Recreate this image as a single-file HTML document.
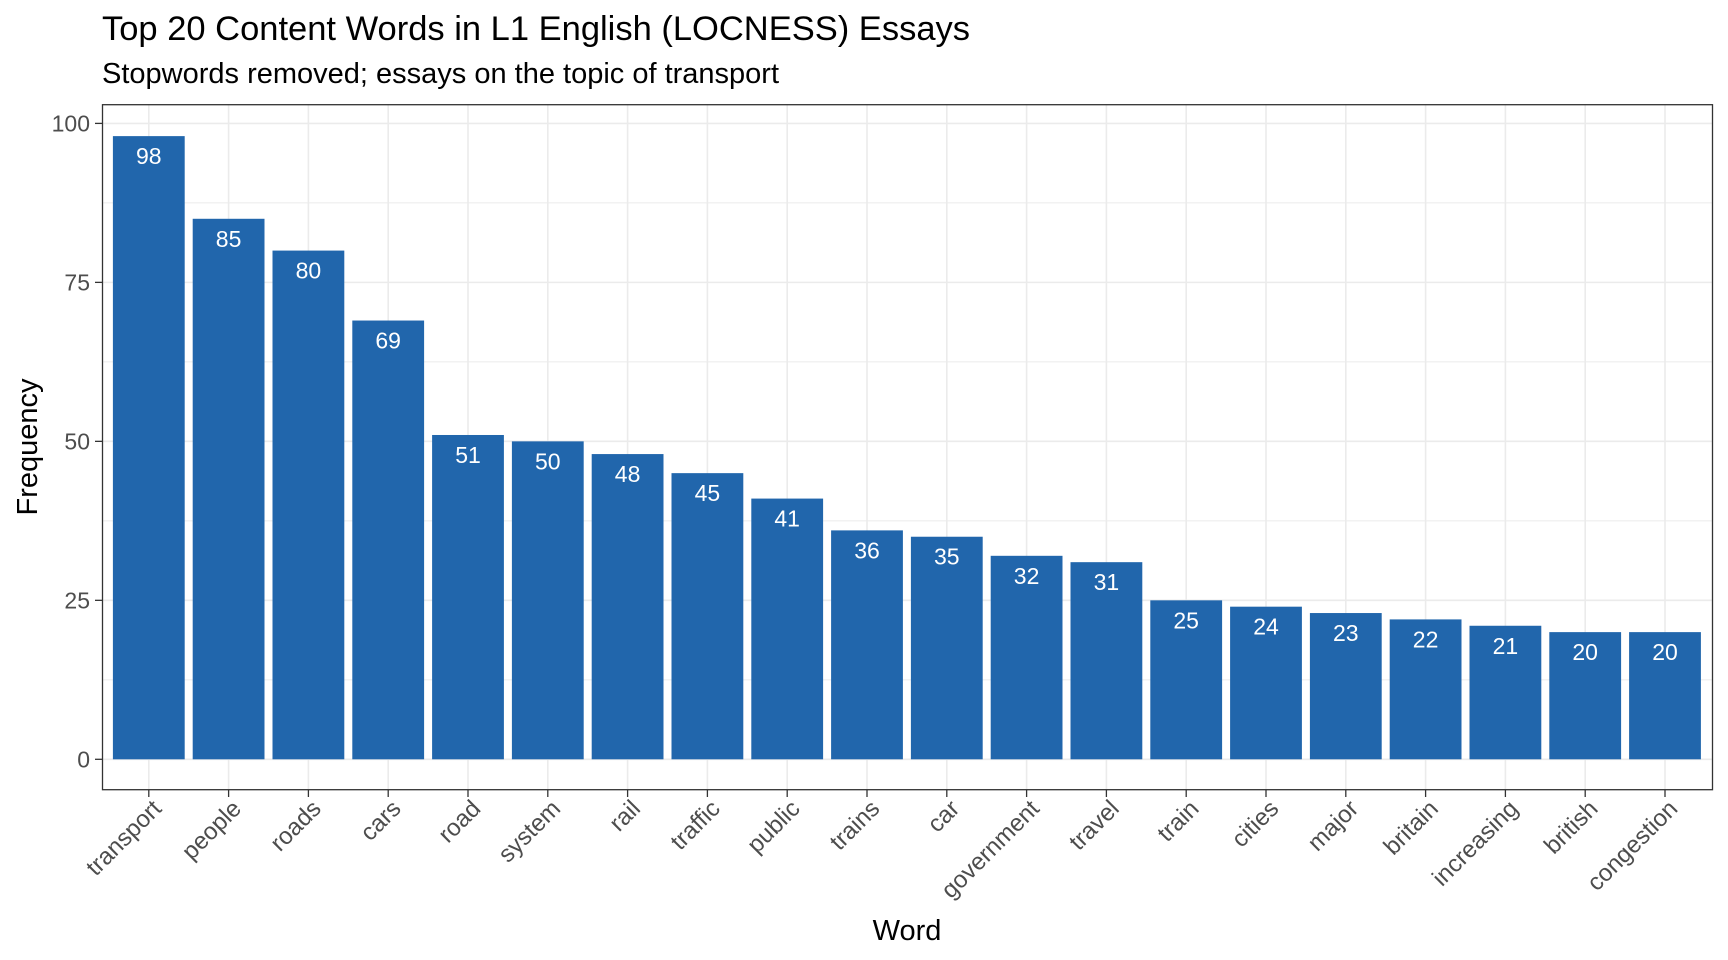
<!DOCTYPE html>
<html><head><meta charset="utf-8"><style>html,body{margin:0;padding:0;background:#fff}svg{display:block}text{font-family:"Liberation Sans",Arial,sans-serif}</style></head><body>
<svg width="1728" height="960" xmlns="http://www.w3.org/2000/svg" id="s">
<rect width="1728" height="960" fill="#fff"/>
<text x="102" y="40" font-size="34.5" fill="#000">Top 20 Content Words in L1 English (LOCNESS) Essays</text>
<text x="102" y="83" font-size="29" fill="#000">Stopwords removed; essays on the topic of transport</text>
<g id="grid"></g>
<g id="bars"></g>
<rect x="102.5" y="104.7" width="1610" height="685" fill="none" stroke="#333" stroke-width="1.3"/>
<g id="ax"></g>
<text x="907" y="940" font-size="29" text-anchor="middle" fill="#000">Word</text>
<text transform="translate(37,447) rotate(-90)" font-size="29" text-anchor="middle" fill="#000">Frequency</text>
</svg>
<script>
(function(){
var ns="http://www.w3.org/2000/svg";
function el(p,t,a,txt){var e=document.createElementNS(ns,t);for(var k in a)e.setAttribute(k,a[k]);if(txt!==undefined)e.textContent=txt;document.getElementById(p).appendChild(e);}
var w=["transport","people","roads","cars","road","system","rail","traffic","public","trains","car","government","travel","train","cities","major","britain","increasing","british","congestion"];
var v=[98,85,80,69,51,50,48,45,41,36,35,32,31,25,24,23,22,21,20,20];
var y0=759.3,k=6.359,x0=148.8,dx=79.8,L=102.5,R=1712.5;
for(var i=0;i<=8;i++){var y=y0-i*12.5*k;el("grid","line",{x1:L,x2:R,y1:y,y2:y,stroke:"#ebebeb","stroke-width":i%2?1:1.6});}
for(var i=0;i<20;i++){var cx=x0+i*dx;el("grid","line",{x1:cx,x2:cx,y1:104.7,y2:789.7,stroke:"#ebebeb","stroke-width":1.6});
var ty=y0-v[i]*k;el("bars","rect",{x:cx-35.9,y:ty,width:71.8,height:v[i]*k,fill:"#2166ac"});
el("bars","text",{x:cx,y:ty+28,"font-size":23,fill:"#fff","text-anchor":"middle"},v[i]);
el("ax","line",{x1:cx,x2:cx,y1:789.7,y2:797,stroke:"#333","stroke-width":1.3});
el("ax","text",{transform:"translate("+(cx+14)+",810) rotate(-45)","font-size":24,fill:"#4d4d4d","text-anchor":"end"},w[i]);}
for(var i=0;i<=4;i++){var y=y0-i*25*k;el("ax","line",{x1:95,x2:102.5,y1:y,y2:y,stroke:"#333","stroke-width":1.3});
el("ax","text",{x:90,y:y+8,"font-size":23,fill:"#4d4d4d","text-anchor":"end"},i*25);}
})();
</script>
</body></html>
